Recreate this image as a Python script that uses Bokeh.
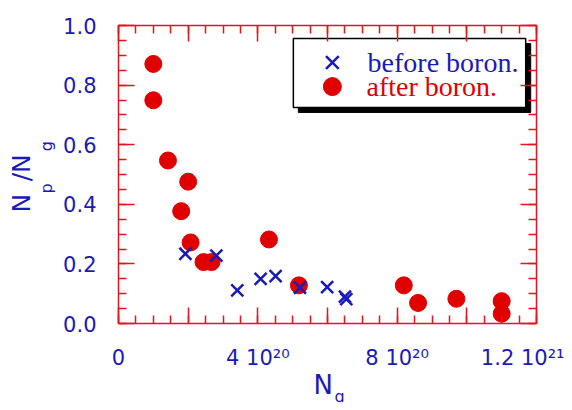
from bokeh.plotting import figure
from bokeh.models import Range1d, LinearAxis, FixedTicker, Title, CustomJSTickFormatter
from bokeh.embed import file_html
from bokeh.resources import INLINE
from bokeh.core.properties import value

# N_g in units of 1e20 cm^-3, ratio Np/Ng
before_ng = [1.92, 2.81, 3.41, 4.08, 4.51, 5.21, 5.99, 6.50, 6.54]
before_ratio = [0.234, 0.228, 0.111, 0.150, 0.159, 0.120, 0.122, 0.090, 0.082]
after_ng = [1.0, 1.0, 1.42, 2.0, 1.8, 2.07, 2.44, 2.67, 4.32, 5.18, 8.19, 8.6, 9.7, 11.0, 11.0]
after_ratio = [0.871, 0.749, 0.547, 0.476, 0.377, 0.272, 0.206, 0.206, 0.282, 0.128,
               0.128, 0.069, 0.083, 0.075, 0.033]

x_major = [0, 2, 4, 6, 8, 10, 12]
x_labels = {0: "0", 2: "", 4: "4 10²⁰", 6: "", 8: "8 10²⁰", 10: "", 12: "1.2 10²¹"}
x_minor = [i * 0.5 for i in range(25)]
y_major = [0.0, 0.2, 0.4, 0.6, 0.8, 1.0]
y_minor = [i * 0.05 for i in range(21)]

legend_labels = ["before boron.", "after boron."]

RED = "#e3141c"
MRED = "#e00000"
BLUE = "#1a1ab8"

p = figure(width=564, height=402, output_backend="svg", toolbar_location=None,
           x_range=Range1d(0, 12), y_range=Range1d(0, 1.0),
           x_axis_location=None, y_axis_location=None,
           min_border_left=118, min_border_right=28, min_border_top=25, min_border_bottom=79)
p.xgrid.visible = False
p.ygrid.visible = False
p.outline_line_color = None

xt = FixedTicker(ticks=x_major, minor_ticks=x_minor)
yt = FixedTicker(ticks=y_major, minor_ticks=y_minor)
blank = CustomJSTickFormatter(code="return ''")

bottom = LinearAxis(ticker=xt, major_label_overrides=x_labels)
left = LinearAxis(ticker=yt, major_label_overrides={v: f"{v:.1f}" for v in y_major})
top = LinearAxis(ticker=xt, formatter=blank)
right = LinearAxis(ticker=yt, formatter=blank)
p.add_layout(bottom, "below")
p.add_layout(left, "left")
p.add_layout(top, "above")
p.add_layout(right, "right")

for ax in (bottom, left, top, right):
    ax.axis_line_color = RED
    ax.axis_line_width = 1.5
    ax.major_tick_line_color = RED
    ax.major_tick_line_width = 1.5
    ax.minor_tick_line_color = RED
    ax.minor_tick_line_width = 1.5
    ax.major_tick_in = 16
    ax.major_tick_out = 0
    ax.minor_tick_in = 8
    ax.minor_tick_out = 0
    ax.major_label_text_color = BLUE
    ax.major_label_text_font = "DejaVu Sans"
    ax.major_label_text_font_size = "21px"
    ax.major_label_standoff = 22

# legend box with shadow (drawn in data space)
dx = 5 / 34.83
dy = 5 / 298
p.quad(left=[5.02 + dx], right=[11.69 + dx], top=[0.956 - dy], bottom=[0.725 - dy],
       fill_color="black", line_color="black")
p.quad(left=[5.02], right=[11.69], top=[0.956], bottom=[0.725],
       fill_color="white", line_color="black", line_width=1.5)
p.scatter(x=[6.14], y=[0.876], marker="x", size=18, line_color=BLUE, line_width=2.5)
p.scatter(x=[6.14], y=[0.795], marker="circle", size=18, fill_color=MRED, line_color=MRED)
p.text(x=[7.15], y=[0.876], text=[legend_labels[0]], text_font=value("Liberation Serif"),
       text_font_size="28px", text_color=BLUE, text_baseline="middle")
p.text(x=[7.12], y=[0.795], text=[legend_labels[1]], text_font=value("Liberation Serif"),
       text_font_size="28px", text_color=MRED, text_baseline="middle")

# data
p.scatter(after_ng, after_ratio, marker="circle", size=17, fill_color=MRED, line_color=MRED)
p.scatter(before_ng, before_ratio, marker="x", size=17, line_color=BLUE, line_width=2.5)

# axis titles built from Title annotations in the side panels
def title(t, size, loc, offset, standoff):
    p.add_layout(Title(text=t, align="left", offset=offset, standoff=standoff,
                       text_font="DejaVu Sans", text_font_size=size,
                       text_font_style="normal", text_color=BLUE), loc)

# y title: N_p / N_g  (inner row: subscripts, outer row: N / N)
title("p\u2003\u2003g", "16px", "left", 130, 10)
title("N\u2002/N", "25px", "left", 111, -12)
# x title: N_g
title("N", "26px", "below", 195, -10)
title("g", "16px", "below", 216, -19)

open("out.html", "w").write(file_html(p, INLINE))
